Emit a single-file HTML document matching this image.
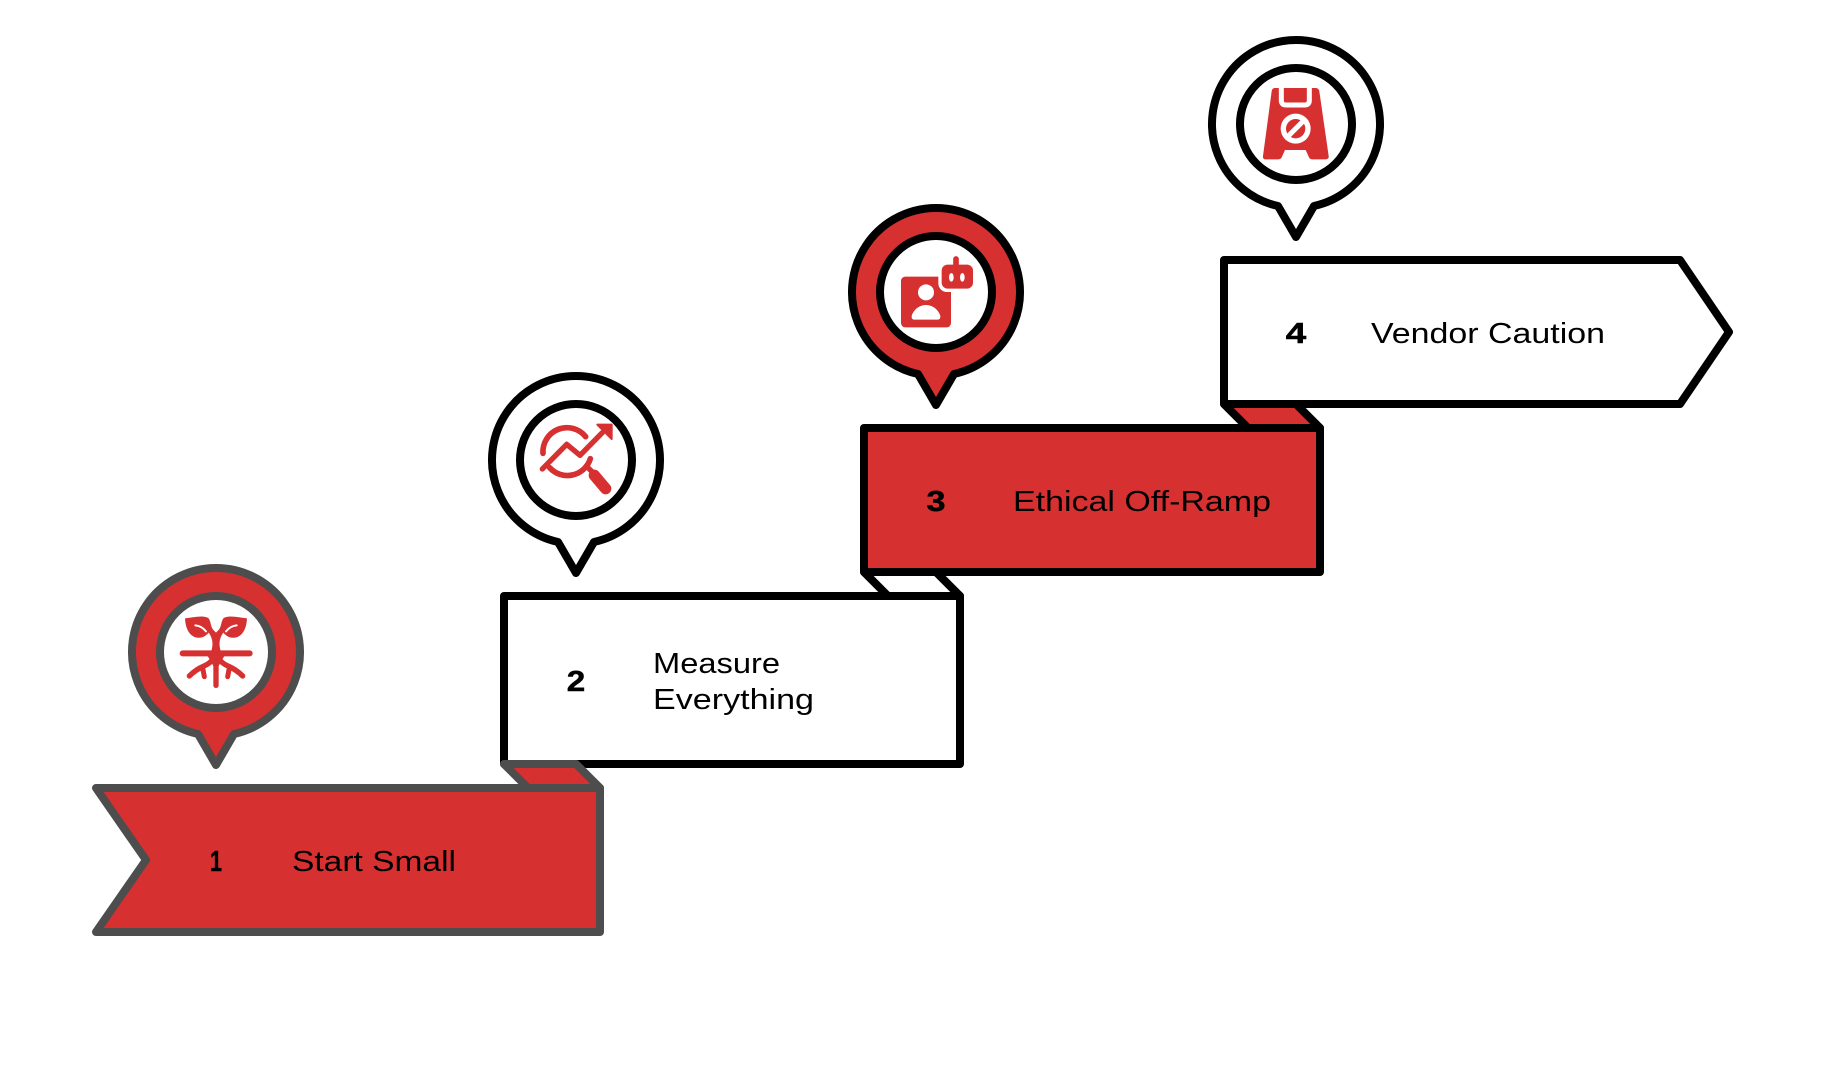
<!DOCTYPE html>
<html lang="en">
<head>
<meta charset="utf-8">
<title>Steps</title>
<style>
html,body{margin:0;padding:0;background:#fff;width:1824px;height:1076px;overflow:hidden}
svg{display:block}
.t{font-family:"Liberation Sans",sans-serif;font-size:29px;fill:#000}
.n{font-family:"Liberation Sans",sans-serif;font-size:29px;font-weight:700;fill:#000;stroke:#000;stroke-width:.5;text-anchor:middle}
</style>
</head>
<body>
<svg width="1824" height="1076" viewBox="0 0 1824 1076" xmlns="http://www.w3.org/2000/svg">
<rect width="1824" height="1076" fill="#fff"/>

<!-- Step 4 -->
<path d="M1224 260H1680L1729 332L1680 404H1224Z" fill="#fff" stroke="#000" stroke-width="8" stroke-linejoin="round"/>
<!-- Tab 3-4 -->
<path d="M1224 404H1296L1320 428H1248Z" fill="#d63031" stroke="#000" stroke-width="8" stroke-linejoin="round"/>
<!-- Step 3 -->
<rect x="864" y="428" width="456" height="144" fill="#d63031" stroke="#000" stroke-width="8" stroke-linejoin="round"/>
<!-- Tab 2-3 -->
<path d="M864 572H936L960 596H888Z" fill="#fff" stroke="#000" stroke-width="8" stroke-linejoin="round"/>
<!-- Step 2 -->
<rect x="504" y="596" width="456" height="168" fill="#fff" stroke="#000" stroke-width="8" stroke-linejoin="round"/>
<!-- Tab 1-2 -->
<path d="M504 764H576L600 788H528Z" fill="#d63031" stroke="#4d4d4d" stroke-width="8" stroke-linejoin="round"/>
<!-- Step 1 -->
<path d="M96 788H600V932H96L146 860Z" fill="#d63031" stroke="#4d4d4d" stroke-width="8" stroke-linejoin="round"/>

<!-- Pin 1 -->
<g transform="translate(216,652)">
<path d="M-18 82A84 84 0 1 1 18 82L0 113Z" fill="#d63031" stroke="#4d4d4d" stroke-width="8" stroke-linejoin="round"/>
<circle r="56" fill="#fff" stroke="#4d4d4d" stroke-width="8"/>
</g>
<!-- Pin 2 -->
<g transform="translate(576,460)">
<path d="M-18 82A84 84 0 1 1 18 82L0 113Z" fill="#fff" stroke="#000" stroke-width="8" stroke-linejoin="round"/>
<circle r="56" fill="#fff" stroke="#000" stroke-width="8"/>
</g>
<!-- Pin 3 -->
<g transform="translate(936,292)">
<path d="M-18 82A84 84 0 1 1 18 82L0 113Z" fill="#d63031" stroke="#000" stroke-width="8" stroke-linejoin="round"/>
<circle r="56" fill="#fff" stroke="#000" stroke-width="8"/>
</g>
<!-- Pin 4 -->
<g transform="translate(1296,124)">
<path d="M-18 82A84 84 0 1 1 18 82L0 113Z" fill="#fff" stroke="#000" stroke-width="8" stroke-linejoin="round"/>
<circle r="56" fill="#fff" stroke="#000" stroke-width="8"/>
</g>

<!-- Icon 1: sprout -->
<g transform="translate(150,590) scale(.33333)" fill="#d63031" stroke="none">
<g>
<path d="M105 85C125 83 160 74 175 84C184 94 180 110 192 122L198 128V190H182C190 165 190 148 176 128C155 155 108 150 105 85Z"/>
<path d="M136 106C150 107 160 114 168 124" fill="none" stroke="#fff" stroke-width="6" stroke-linecap="round"/>
<path d="M190 206C172 232 150 225 118 258" fill="none" stroke="#d63031" stroke-width="16" stroke-linecap="round"/>
<path d="M158 234L163 260" fill="none" stroke="#d63031" stroke-width="15" stroke-linecap="round"/>
</g>
<g transform="translate(396,0) scale(-1,1)">
<path d="M105 85C125 83 160 74 175 84C184 94 180 110 192 122L198 128V190H182C190 165 190 148 176 128C155 155 108 150 105 85Z"/>
<path d="M136 106C150 107 160 114 168 124" fill="none" stroke="#fff" stroke-width="6" stroke-linecap="round"/>
<path d="M190 206C172 232 150 225 118 258" fill="none" stroke="#d63031" stroke-width="16" stroke-linecap="round"/>
<path d="M158 234L163 260" fill="none" stroke="#d63031" stroke-width="15" stroke-linecap="round"/>
</g>
<path d="M172 196H224L206 228H190Z"/>
<path d="M98 190H299" stroke="#d63031" stroke-width="18" stroke-linecap="round" fill="none"/>
<path d="M198 195V286" stroke="#d63031" stroke-width="16" stroke-linecap="round" fill="none"/>
</g>

<!-- Icon 2: magnifier with trend -->
<g transform="translate(515,400) scale(.33333)" fill="none" stroke="#d63031" stroke-linecap="round" stroke-linejoin="round">
<path d="M84 160A72 72 0 0 1 212 110" stroke-width="17"/>
<path d="M104 203A72 72 0 0 0 226 176" stroke-width="17"/>
<path d="M82 207L155 133L195 166L262 98" stroke-width="16"/>
<path d="M247 74H290V117Z" fill="#d63031" stroke-width="6"/>
<path d="M214 198L238 222" stroke-width="16"/>
<path d="M238 226L272 266" stroke-width="34"/>
</g>

<!-- Icon 3: person card + robot -->
<g transform="translate(875,230) scale(.33333)">
<rect x="78" y="140" width="150" height="152" rx="13" fill="#d63031"/>
<rect x="190" y="94" width="114" height="92" rx="26" fill="#fff"/>
<rect x="200" y="104" width="94" height="72" rx="18" fill="#d63031"/>
<path d="M243 87V108" stroke="#d63031" stroke-width="17" stroke-linecap="round"/>
<ellipse cx="229" cy="142" rx="7" ry="13" fill="#fff"/>
<ellipse cx="262" cy="142" rx="7" ry="13" fill="#fff"/>
<circle cx="153" cy="187" r="24" fill="#fff"/>
<path d="M118 269C108 269 109 258 112 252C120 235 136 225 153 225C170 225 186 235 194 252C197 258 198 269 188 269Z" fill="#fff"/>
</g>

<!-- Icon 4: caution sign -->
<g transform="translate(1237,60) scale(.33333)">
<path d="M115 84H235C242 84 246 88 247 94L275 288C276 295 272 298 266 298H226C220 298 217 295 215 290L206 270H144L135 290C133 295 130 298 124 298H86C80 298 77 295 78 288L104 94C105 88 108 84 115 84Z" fill="#d63031"/>
<path d="M133 84V122C133 130 138 135 146 135H204C212 135 217 130 217 122V84" fill="#d63031" stroke="#fff" stroke-width="15"/>
<circle cx="176" cy="206" r="45" fill="#fff"/>
<circle cx="176" cy="206" r="29" fill="#d63031"/>
<path d="M152 230L200 182" stroke="#fff" stroke-width="15"/>
</g>

<!-- Numbers -->
<text class="n" x="216" y="871" textLength="12" lengthAdjust="spacingAndGlyphs">1</text>
<text class="n" x="576" y="691" textLength="18.5" lengthAdjust="spacingAndGlyphs">2</text>
<text class="n" x="936" y="511" textLength="19" lengthAdjust="spacingAndGlyphs">3</text>
<text class="n" x="1296" y="343" textLength="20.5" lengthAdjust="spacingAndGlyphs">4</text>

<!-- Labels -->
<text class="t" x="292" y="871" textLength="164" lengthAdjust="spacingAndGlyphs">Start Small</text>
<text class="t" x="653" y="673" textLength="127" lengthAdjust="spacingAndGlyphs">Measure</text>
<text class="t" x="653" y="709" textLength="161" lengthAdjust="spacingAndGlyphs">Everything</text>
<text class="t" x="1013" y="511" textLength="258" lengthAdjust="spacingAndGlyphs">Ethical Off-Ramp</text>
<text class="t" x="1371" y="343" textLength="234" lengthAdjust="spacingAndGlyphs">Vendor Caution</text>
</svg>
</body>
</html>
